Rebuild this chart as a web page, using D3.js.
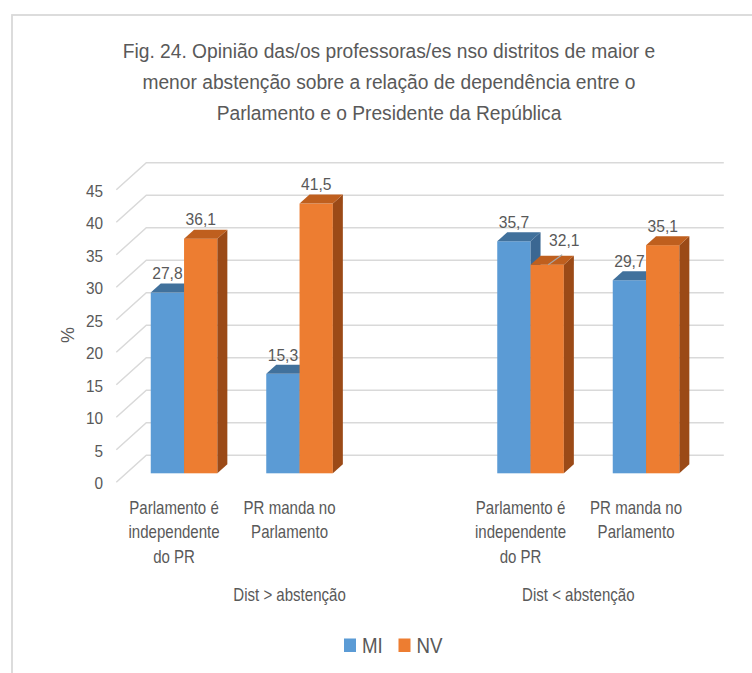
<!DOCTYPE html>
<html>
<head>
<meta charset="utf-8">
<script src="https://cdn.jsdelivr.net/npm/d3@7"></script>
<style>
  body { margin: 0; background: #fff; }
  text { font-family: "Liberation Sans", Arial, sans-serif; fill: #595959; }
</style>
</head>
<body>
<script>
// chart values
var titleLines = [
  "Fig. 24. Opinião das/os professoras/es nso distritos de maior e",
  "menor abstenção sobre a relação de dependência entre o",
  "Parlamento e o Presidente da República"
];
var groups = ["Dist > abstenção", "Dist < abstenção"];
var categories = [
  ["Parlamento é", "independente", "do PR"],
  ["PR manda no", "Parlamento"]
];
var series = ["MI", "NV"];
var valuesMI = [27.8, 15.3, 35.7, 29.7];
var valuesNV = [36.1, 41.5, 32.1, 35.1];
var yTicks = [0, 5, 10, 15, 20, 25, 30, 35, 40, 45];
var yTitle = "%";

var width = 752, height = 673;
var colors = {
  MI: { front: "#5b9bd5", top: "#41719c", side: "#3b6792" },
  NV: { front: "#ed7d31", top: "#bf5f1e", side: "#9b4a17" }
};

// depth of the 3D box (back wall offset)
var DX = 30, DY = -27;

var svg = d3.select("body").append("svg")
  .attr("width", width)
  .attr("height", height);

// frame of the chart area
svg.append("rect")
  .attr("x", 12).attr("y", 15)
  .attr("width", 800).attr("height", 700)
  .attr("fill", "none")
  .attr("stroke", "#d9d9d9")
  .attr("stroke-width", 1.8);

// squeezed text helper (the picture has narrow text)
function label(x, y, str, size, sx, anchor) {
  return svg.append("text")
    .attr("transform", "translate(" + x + "," + y + ") scale(" + sx + ",1)")
    .attr("text-anchor", anchor || "middle")
    .attr("dy", "0.35em")
    .style("font-size", size + "px")
    .text(str);
}

// title
titleLines.forEach(function (t, i) {
  label(389, 51 + i * 31, t, 21, 0.915);
});

// slots: each group gets its categories, with one empty slot between groups
var slotKeys = [];
groups.forEach(function (g, gi) {
  categories.forEach(function (c, ci) { slotKeys.push(gi + "|" + ci); });
  if (gi < groups.length - 1) slotKeys.push(gi + "|gap");
});

var x = d3.scaleBand().domain(slotKeys).range([116.3, 693.8]);
var inner = d3.scaleBand().domain(series).range([-33.3, 33.3]);
var y = d3.scaleLinear().domain([0, 45]).range([482.3, 189.8]);

// gridlines: floor diagonal + back wall
var grid = svg.append("g")
  .attr("stroke", "#d9d9d9")
  .attr("stroke-width", 1.5)
  .attr("fill", "none");
yTicks.forEach(function (v) {
  var x0 = x.range()[0], x1 = x.range()[1];
  grid.append("polyline")
    .attr("points", [[x0, y(v)], [x0 + DX, y(v) + DY], [x1 + DX, y(v) + DY]].join(" "));
});

// y axis labels
yTicks.forEach(function (v) {
  label(103, y(v) + 1, String(v), 16.5, 0.93, "end");
});
svg.append("text")
  .attr("transform", "translate(68,335) rotate(-90)")
  .attr("text-anchor", "middle")
  .attr("dy", "0.35em")
  .style("font-size", "18px")
  .text(yTitle);

// rows of bars
var rows = [];
groups.forEach(function (g, gi) {
  categories.forEach(function (c, ci) {
    var i = gi * categories.length + ci;
    rows.push({ key: gi + "|" + ci, s: "MI", v: valuesMI[i], idx: i });
    rows.push({ key: gi + "|" + ci, s: "NV", v: valuesNV[i], idx: i });
  });
});

var fdx = DX / 3, fdy = DY / 3; // bars sit in the middle third of the depth
var bw = inner.bandwidth();
var base = y(0) + fdy;

rows.forEach(function (d) {
  var bx = x(d.key) + x.bandwidth() / 2 + fdx + inner(d.s);
  var top = y(d.v) + fdy;
  var c = colors[d.s];
  d.bx = bx; d.top = top;
  var g = svg.append("g");
  g.append("rect")
    .attr("x", bx).attr("y", top)
    .attr("width", bw).attr("height", base - top)
    .attr("fill", c.front);
  g.append("polygon")
    .attr("points", [[bx + bw, top], [bx + bw + fdx, top + fdy], [bx + bw + fdx, base + fdy], [bx + bw, base]].join(" "))
    .attr("fill", c.side);
  g.append("polygon")
    .attr("points", [[bx, top], [bx + bw, top], [bx + bw + fdx, top + fdy], [bx + fdx, top + fdy]].join(" "))
    .attr("fill", c.top);
});

// data labels (one is moved aside with a leader line)
var fmt = function (v) { return d3.format(".1f")(v).replace(".", ","); };
rows.forEach(function (d) {
  var cx = d.bx + bw / 2, cy = d.top - 19;
  if (d.s === "NV" && d.idx === 2) {
    cx += 17; cy -= 5;
    svg.append("line")
      .attr("x1", d.bx + bw / 2 + 1).attr("y1", d.top)
      .attr("x2", cx - 2).attr("y2", cy + 14)
      .attr("stroke", "#a6a6a6").attr("stroke-width", 1.2);
  }
  label(cx, cy, fmt(d.v), 16.5, 0.95);
});

// category labels
groups.forEach(function (g, gi) {
  categories.forEach(function (lines, ci) {
    var cx = x(gi + "|" + ci) + x.bandwidth() / 2;
    lines.forEach(function (t, li) {
      label(cx, 508 + li * 24.3, t, 17.5, 0.86);
    });
  });
  var keys = slotKeys.filter(function (k) { return k.indexOf(gi + "|") === 0; });
  var gx = (x(keys[0]) + x(keys[keys.length - 1]) + x.bandwidth()) / 2;
  label(gx, 595, g, 17.5, 0.86);
});

// legend
var legendX = [344, 398.5];
series.forEach(function (s, i) {
  svg.append("rect")
    .attr("x", legendX[i]).attr("y", 638.5)
    .attr("width", 12).attr("height", 13.5)
    .attr("fill", colors[s].front);
  label(legendX[i] + 18, 645.5, s, 22, 0.85, "start");
});
</script>
</body>
</html>
